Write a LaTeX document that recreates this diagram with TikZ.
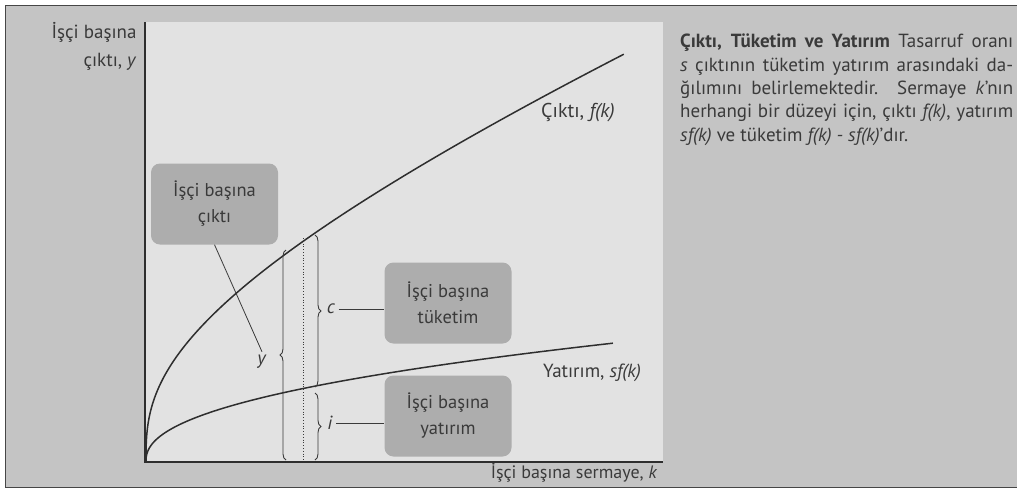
\documentclass[tikz,border=0pt]{standalone}
\usepackage{fontspec}
\setmainfont{PT Sans}
\usetikzlibrary{decorations.pathreplacing}
\definecolor{pagebg}{HTML}{C4C4C4}
\definecolor{panelbg}{HTML}{E2E2E2}
\definecolor{boxbg}{HTML}{ADADAD}
\definecolor{ink}{HTML}{3A3A3A}
\definecolor{curvecol}{HTML}{2E2E2E}
\newcommand{\jline}[1]{\makebox[333pt][s]{#1}}
\begin{document}
\begin{tikzpicture}[x=1pt,y=-1pt,
  every node/.style={text=ink, font=\fontsize{19}{26}\selectfont},
  infobox/.style={fill=boxbg, rounded corners=9pt, minimum width=127pt, minimum height=81pt, align=center, inner sep=2pt, font=\fontsize{18.5}{26}\selectfont},
  curveline/.style={line width=1.5pt, draw=curvecol},
  leader/.style={line width=0.8pt, draw=ink},
  bracestyle/.style={line width=0.9pt, draw=ink, decorate, decoration={brace, amplitude=6pt}},
  para/.style={anchor=west, inner sep=0pt, font=\fontsize{19}{23}\selectfont}]
\useasboundingbox (0,0) rectangle (1017,491);
\fill[white] (0,0) rectangle (1017,491);
\begin{scope}
\clip (0,0) rectangle (1017,491);
\fill[pagebg] (5,5) rectangle (1020,487);
\draw[line width=1pt, gray!55!black] (1020,5) -- (5,5) -- (5,487) -- (1020,487);
\fill[panelbg] (145,22) rectangle (663,462);
% axes
\coordinate (ytop) at (145,22);
\coordinate (O) at (145,462);
\coordinate (xend) at (663,462);
\draw[line width=1.2pt, draw=curvecol] (ytop) -- (O) -- (xend);
% curves: output f(k) and investment sf(k)
\draw[curveline] plot[domain=0.01:21.86, samples=150, smooth] ({146+\x*\x},{461-28.44*(\x)^0.7-0.3357*\x*\x});
\draw[curveline] plot[domain=0.01:21.61, samples=150, smooth] ({146+\x*\x},{461-7.6*(\x)^0.892});
% dotted vertical
\coordinate (dtop) at (303,238);
\coordinate (dbot) at (303,462);
\draw[dotted, line width=0.8pt, draw=ink] (dtop) -- (dbot);
% braces
\coordinate (yb1) at (286,460);
\coordinate (yb2) at (286,250);
\draw[bracestyle] (yb1) -- (yb2);
\coordinate (cb1) at (315,235);
\coordinate (cb2) at (315,387);
\draw[bracestyle] (cb1) -- (cb2);
\coordinate (ib1) at (315,393);
\coordinate (ib2) at (315,460);
\draw[bracestyle] (ib1) -- (ib2);
% labels
\node[anchor=east, align=right, font=\fontsize{19}{28}\selectfont] (ylab) at (140,46) {İşçi başına\\çıktı, \textit{y}};
\node[font=\fontsize{18}{20}\selectfont] (xlab) at (574,473) {İşçi başına sermaye, \textit{k}};
\node[font=\fontsize{20}{24}\selectfont] (flab) at (578,113) {Çıktı, \textit{f(k)}};
\node (slab) at (592,373) {Yatırım, \textit{sf(k)}};
\node (ylbl) at (262,362) {\textit{y}};
\node (clbl) at (331,309) {\textit{c}};
\node (ilbl) at (330,423) {\textit{i}};
% boxes
\node[infobox] (box1) at (214.5,204) {İşçi başına\\çıktı};
\node[infobox] (box2) at (448,303) {İşçi başına\\tüketim};
\node[infobox] (box3) at (448,416) {İşçi başına\\yatırım};
% leaders
\draw[leader] (box1.south) -- (ylbl.north);
\draw[leader] (clbl.east) -- (clbl.east -| box2.west);
\draw[leader] (ilbl.east) -- (ilbl.east -| box3.west);
% paragraph
\node[para] (t1) at (680,43) {\jline{\textbf{Çıktı, Tüketim ve Yatırım} Tasarruf oranı}};
\node[para] (t2) at (680,67) {\jline{\textit{s} çıktının tüketim yatırım arasındaki da-}};
\node[para] (t3) at (680,90) {\jline{ğılımını belirlemektedir. Sermaye \textit{k}’nın}};
\node[para] (t4) at (680,113) {\jline{herhangi bir düzeyi için, çıktı \textit{f(k)}, yatırım}};
\node[para] (t5) at (680,137) {\textit{sf(k)} ve tüketim \textit{f(k) - sf(k)}’dır.};
\end{scope}
\end{tikzpicture}
\end{document}
